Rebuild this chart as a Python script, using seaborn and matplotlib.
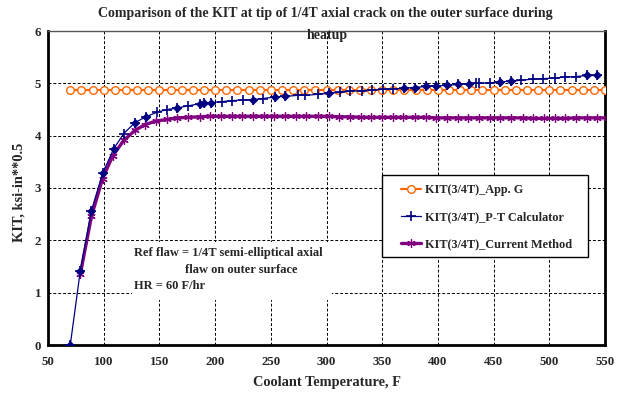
import matplotlib
matplotlib.use("Agg")
import matplotlib.pyplot as plt
import seaborn as sns
import pandas as pd
from matplotlib.lines import Line2D
from matplotlib.patches import Rectangle

# ---------------- data ----------------
appg_temp = [70, 80, 90, 100, 110, 120, 130, 140, 150, 160, 170, 180, 190, 200,
             210, 220, 230, 240, 250, 260, 270, 280, 290, 300, 310, 320, 330,
             340, 350, 360, 370, 380, 390, 400, 410, 420, 430, 440, 450, 460,
             470, 480, 490, 500, 510, 520, 530, 540, 550]
appg_kit = [4.87, 4.87, 4.87, 4.87, 4.87, 4.87, 4.87, 4.87, 4.87, 4.87, 4.87,
            4.87, 4.87, 4.87, 4.87, 4.87, 4.87, 4.87, 4.87, 4.87, 4.87, 4.87,
            4.87, 4.87, 4.87, 4.87, 4.87, 4.87, 4.87, 4.87, 4.87, 4.87, 4.87,
            4.87, 4.87, 4.87, 4.87, 4.87, 4.87, 4.87, 4.87, 4.87, 4.87, 4.87,
            4.87, 4.87, 4.87, 4.87, 4.87]

pt_temp = [70, 79, 89, 99, 109, 118, 128, 138, 148, 157, 166, 176, 186, 190,
           196, 206, 215, 225, 234, 243, 254, 263, 274, 281, 292, 302, 312,
           321, 332, 341, 351, 360, 370, 379, 389, 398, 408, 418, 428, 434,
           437, 447, 456, 466, 475, 485, 494, 505, 514, 524, 534, 543]
pt_kit = [0.00, 1.42, 2.57, 3.28, 3.75, 4.04, 4.25, 4.36, 4.45, 4.50, 4.53,
          4.57, 4.61, 4.62, 4.63, 4.65, 4.67, 4.68, 4.69, 4.71, 4.74, 4.75,
          4.77, 4.77, 4.79, 4.81, 4.83, 4.85, 4.86, 4.87, 4.885, 4.89, 4.91,
          4.92, 4.94, 4.95, 4.96, 4.98, 4.99, 5.00, 5.00, 5.01, 5.03, 5.04,
          5.06, 5.08, 5.09, 5.10, 5.12, 5.13, 5.15, 5.15]
# points of the P-T series drawn with a filled diamond in the original
pt_diamond_temp = [70, 79, 89, 99, 109, 128, 138, 166, 186, 190, 196, 234, 254,
                   263, 302, 370, 379, 389, 398, 408, 418, 428, 456, 466, 534, 543]

cur_temp = [79, 89, 99, 108, 118, 128, 137, 147, 157, 166, 176, 186, 195, 205,
            215, 224, 234, 244, 253, 263, 273, 282, 292, 302, 311, 321, 331,
            340, 350, 360, 369, 379, 389, 398, 408, 418, 427, 437, 447, 456,
            466, 476, 485, 495, 505, 514, 524, 534, 543, 552]
cur_kit = [1.35, 2.46, 3.18, 3.61, 3.91, 4.10, 4.21, 4.28, 4.31, 4.34, 4.35,
           4.36, 4.37, 4.37, 4.37, 4.37, 4.37, 4.37, 4.37, 4.37, 4.37, 4.37,
           4.37, 4.37, 4.36, 4.36, 4.35, 4.35, 4.35, 4.35, 4.35, 4.35, 4.35,
           4.34, 4.34, 4.34, 4.34, 4.34, 4.34, 4.34, 4.34, 4.34, 4.33, 4.33,
           4.33, 4.33, 4.34, 4.34, 4.34, 4.34]

x_ticks = [50, 100, 150, 200, 250, 300, 350, 400, 450, 500, 550]
y_ticks = [0, 1, 2, 3, 4, 5, 6]

labels = ["KIT(3/4T)_App. G", "KIT(3/4T)_P-T Calculator", "KIT(3/4T)_Current Method"]
title_line1 = "Comparison of the KIT at tip of 1/4T axial crack on the outer surface during"
title_line2 = "heatup"
note1 = "Ref flaw = 1/4T semi-elliptical axial"
note2 = "flaw on outer surface"
note3 = "HR = 60 F/hr"

# ---------------- style ----------------
sns.set_theme(style="white")
plt.rcParams["font.family"] = ["Liberation Serif", "DejaVu Serif"]
plt.rcParams["font.weight"] = "bold"

ORANGE = "#FF6600"
NAVY = "#000080"
PURPLE = "#800080"

W, H = 625, 399
AX_L, AX_R, AX_T, AX_B = 48, 605, 31, 345
fig = plt.figure(figsize=(W / 100, H / 100), dpi=100)
ax = fig.add_axes([AX_L / W, (H - AX_B) / H, (AX_R - AX_L) / W, (AX_B - AX_T) / H])

df_a = pd.DataFrame({"T": appg_temp, "K": appg_kit})
df_p = pd.DataFrame({"T": pt_temp, "K": pt_kit})
df_c = pd.DataFrame({"T": cur_temp, "K": cur_kit})
df_d = df_p[df_p["T"].isin(pt_diamond_temp)]

sns.lineplot(data=df_a, x="T", y="K", ax=ax, color=ORANGE, lw=1.6,
             marker="o", markersize=5.5, markerfacecolor="white",
             markeredgecolor=ORANGE, markeredgewidth=1.0, estimator=None, zorder=3)
sns.lineplot(data=df_c, x="T", y="K", ax=ax, color=PURPLE, lw=2.4,
             marker=(6, 2, 0), markersize=6, markeredgecolor=PURPLE,
             markeredgewidth=0.9, estimator=None, zorder=4)
sns.lineplot(data=df_p, x="T", y="K", ax=ax, color=NAVY, lw=0.9,
             marker="+", markersize=6.5, markeredgecolor=NAVY,
             markeredgewidth=1.2, estimator=None, zorder=5)
sns.scatterplot(data=df_d, x="T", y="K", ax=ax, color=NAVY, marker="D",
                s=17, edgecolor=NAVY, linewidth=0.5, zorder=6, legend=False)

ax.set_xlim(50, 550)
ax.set_ylim(0, 6)
ax.set_xticks(x_ticks)
ax.set_yticks(y_ticks)
ax.set_xticklabels([str(v) for v in x_ticks], fontsize=9.3, fontweight="bold")
ax.set_yticklabels([str(v) for v in y_ticks], fontsize=9.3, fontweight="bold")
ax.tick_params(axis="x", direction="in", length=4, width=1, color="black", pad=8)
ax.tick_params(axis="y", direction="out", length=2, width=1, color="black", pad=3)

ax.grid(True, which="major", color="black", linestyle=(0, (3, 2)), linewidth=0.7)
ax.set_axisbelow(True)
for side in ["left", "bottom", "right"]:
    ax.spines[side].set_color("black")
    ax.spines[side].set_linewidth(2.0)
ax.spines["top"].set_color("#555555")
ax.spines["top"].set_linewidth(1.0)

ax.set_xlabel("Coolant Temperature, F", fontsize=10.4, fontweight="bold")
ax.set_ylabel("KIT, ksi-in**0.5", fontsize=10.4, fontweight="bold")
ax.xaxis.set_label_coords((327 - AX_L) / (AX_R - AX_L), (AX_B - 376) / (AX_B - AX_T))
ax.yaxis.set_label_coords((26 - AX_L) / (AX_R - AX_L), (AX_B - 192) / (AX_B - AX_T))

fig.text(325 / W, 1 - 13 / H, title_line1, ha="center", va="center",
         fontsize=10, fontweight="bold")
fig.text(327 / W, 1 - 35 / H, title_line2, ha="center", va="center",
         fontsize=10, fontweight="bold", zorder=20)

# white block behind the annotation text
ax.add_patch(Rectangle((125.5, 0.86), 305 - 125.5, 1.97 - 0.86,
                       facecolor="white", edgecolor="none", zorder=1.5))
ax.text(127.5, 1.758, note1, fontsize=9, fontweight="bold", va="center", ha="left", zorder=2)
ax.text(173, 1.433, note2, fontsize=9, fontweight="bold", va="center", ha="left", zorder=2)
ax.text(127.5, 1.127, note3, fontsize=9, fontweight="bold", va="center", ha="left", zorder=2)

# legend: manual frame + frameless legend
def axx(px):
    return (px - AX_L) / (AX_R - AX_L)

def axy(py):
    return (AX_B - py) / (AX_B - AX_T)

ax.add_patch(Rectangle((axx(382), axy(257)), axx(588) - axx(382), axy(175) - axy(257),
                       transform=ax.transAxes, facecolor="white", edgecolor="black",
                       linewidth=1.0, zorder=9, clip_on=False))
handles = [
    Line2D([], [], color=ORANGE, lw=1.6, marker="o", markersize=5.5,
           markerfacecolor="white", markeredgecolor=ORANGE),
    Line2D([], [], color=NAVY, lw=0.9, marker="+", markersize=6.5, markeredgewidth=1.2),
    Line2D([], [], color=PURPLE, lw=2.4, marker=(6, 2, 0), markersize=6,
           markeredgewidth=0.9),
]
leg = ax.legend(handles, labels, loc="upper left",
                bbox_to_anchor=(axx(401), axy(184)),
                frameon=False, prop={"size": 8.8, "weight": "bold"},
                handlelength=1.65, handletextpad=0.3, labelspacing=1.25,
                borderpad=0, borderaxespad=0)
leg.set_zorder(10)

fig.savefig("out.png", dpi=100)
